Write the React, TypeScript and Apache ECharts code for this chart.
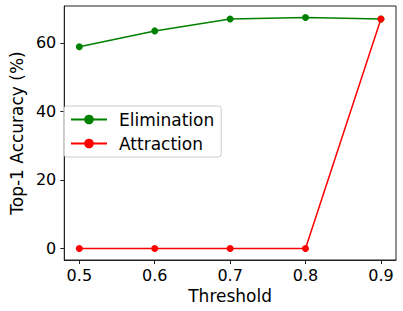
import React, { useEffect, useRef } from "react";
import * as echarts from "echarts";

const thresholds = [0.5, 0.6, 0.7, 0.8, 0.9];
const elimination = [58.9, 63.5, 67.0, 67.4, 67.0];
const attraction = [0, 0, 0, 0, 67.0];
const xTicks = [0.5, 0.6, 0.7, 0.8, 0.9];
const yTicks = [0, 20, 40, 60];

const FONT = "DejaVu Sans";

export default function App() {
  const ref = useRef<HTMLDivElement>(null);
  useEffect(() => {
    const chart = echarts.init(ref.current!, null, { renderer: "svg" });
    const axisCommon = {
      axisLine: { show: true, onZero: false, lineStyle: { color: "#222", width: 1 } },
      axisTick: { show: true, inside: false, length: 4, lineStyle: { color: "#222", width: 1 } },
      splitLine: { show: false },
    };
    chart.setOption({
      animation: false,
      backgroundColor: "#fff",
      grid: { left: 55, right: 7, top: 6, bottom: 51, show: true, borderColor: "#222", borderWidth: 1, containLabel: false },
      xAxis: {
        type: "value",
        min: 0.48,
        max: 0.92,
        ...axisCommon,
        axisTick: { ...axisCommon.axisTick, customValues: xTicks },
        axisLabel: {
          customValues: xTicks,
          formatter: (v: number) => v.toFixed(1),
          fontFamily: FONT,
          fontSize: 16,
          color: "#000",
          margin: 7,
        },
        name: "Threshold",
        nameLocation: "middle",
        nameGap: 26,
        nameTextStyle: { fontFamily: FONT, fontSize: 17, color: "#000" },
      },
      yAxis: {
        type: "value",
        min: -3.37,
        max: 70.77,
        ...axisCommon,
        axisTick: { ...axisCommon.axisTick, customValues: yTicks },
        axisLabel: {
          customValues: yTicks,
          formatter: (v: number) => String(v),
          fontFamily: FONT,
          fontSize: 16,
          color: "#000",
          margin: 8,
        },
        name: "Top-1 Accuracy (%)",
        nameLocation: "middle",
        nameGap: 36,
        nameTextStyle: { fontFamily: FONT, fontSize: 17, color: "#000" },
      },
      legend: {
        left: 64,
        top: 106,
        orient: "vertical",
        backgroundColor: "rgba(255,255,255,0.8)",
        borderColor: "#ccc",
        borderWidth: 1,
        borderRadius: 3,
        padding: [5, 7, 5, 6],
        itemWidth: 36,
        itemHeight: 12,
        itemGap: 7,
        textStyle: { fontFamily: FONT, fontSize: 17, color: "#000", padding: [0, 0, 0, 7] },
        data: ["Elimination", "Attraction"],
      },
      series: [
        {
          name: "Elimination",
          type: "line",
          data: thresholds.map((t, i) => [t, elimination[i]]),
          symbol: "circle",
          symbolSize: 7,
          lineStyle: { color: "#008000", width: 1.5 },
          itemStyle: { color: "#008000" },
        },
        {
          name: "Attraction",
          type: "line",
          data: thresholds.map((t, i) => [t, attraction[i]]),
          symbol: "circle",
          symbolSize: 7,
          lineStyle: { color: "#ff0000", width: 1.5 },
          itemStyle: { color: "#ff0000" },
        },
      ],
    });
    return () => chart.dispose();
  }, []);
  return <div ref={ref} style={{ width: 403, height: 311, position: "absolute", left: 0, top: 0 }} />;
}
